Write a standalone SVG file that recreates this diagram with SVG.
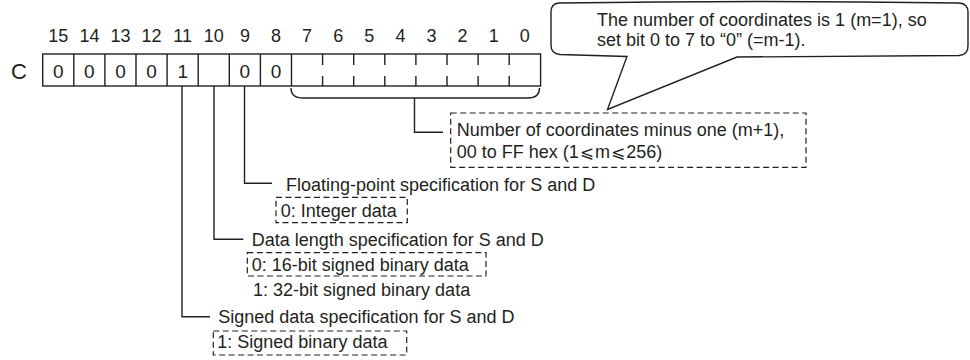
<svg xmlns="http://www.w3.org/2000/svg" width="970" height="360" viewBox="0 0 970 360">
<style>
text{font-family:"Liberation Sans",Arial,sans-serif;font-size:18px;fill:#231f20}
.n{text-anchor:middle}
.m{font-family:"DejaVu Sans","Noto Sans",sans-serif;font-size:17px}
.ln{fill:none;stroke:#231f20;stroke-width:1.4}
.ds{fill:none;stroke:#231f20;stroke-width:1.2;stroke-dasharray:6 3.5}
</style>
<rect width="970" height="360" fill="#fff"/>
<g id="bitnumbers">
<text class="n" x="58.3" y="42">15</text>
<text class="n" x="89.4" y="42">14</text>
<text class="n" x="120.5" y="42">13</text>
<text class="n" x="151.6" y="42">12</text>
<text class="n" x="182.7" y="42">11</text>
<text class="n" x="213.8" y="42">10</text>
<text class="n" x="244.9" y="42">9</text>
<text class="n" x="276" y="42">8</text>
<text class="n" x="307.1" y="42">7</text>
<text class="n" x="338.2" y="42">6</text>
<text class="n" x="369.3" y="42">5</text>
<text class="n" x="400.4" y="42">4</text>
<text class="n" x="431.5" y="42">3</text>
<text class="n" x="462.6" y="42">2</text>
<text class="n" x="493.7" y="42">1</text>
<text class="n" x="524.8" y="42">0</text>
</g>
<g id="register">
<text x="11" y="79" style="font-size:22px">C</text>
<rect class="ln" x="42.7" y="54" width="497.9" height="32"/>
<path class="ln" d="M73.8,54V86M104.9,54V86M136,54V86M167.1,54V86M198.2,54V86M229.3,54V86M260.4,54V86M291.5,54V86"/>
<path class="ln" d="M322.6,54V65M322.6,76V86M353.7,54V65M353.7,76V86M384.8,54V65M384.8,76V86M415.9,54V65M415.9,76V86M447,54V65M447,76V86M478.1,54V65M478.1,76V86M509.2,54V65M509.2,76V86"/>
<text class="n" x="58.3" y="77.5" style="font-size:19px">0</text>
<text class="n" x="89.4" y="77.5" style="font-size:19px">0</text>
<text class="n" x="120.5" y="77.5" style="font-size:19px">0</text>
<text class="n" x="151.6" y="77.5" style="font-size:19px">0</text>
<text class="n" x="182.7" y="77.5" style="font-size:19px">1</text>
<text class="n" x="244.9" y="77.5" style="font-size:19px">0</text>
<text class="n" x="276" y="77.5" style="font-size:19px">0</text>
</g>
<g id="connectors">
<path class="ln" d="M291,88 Q291,98 303,98 L528,98 Q539.5,98 539.5,88"/>
<path class="ln" d="M414.5,98V132.3H443"/>
<path class="ln" d="M244.5,86V183.3H272"/>
<path class="ln" d="M214,86V239.3H243.3"/>
<path class="ln" d="M182,86V316.7H210"/>
</g>
<g id="callout">
<path class="ln" d="M559,3 Q760,0 959,3 Q968,3.5 968,12 L968,46 Q968,55 959,55.5 L737,57 L607.5,109.5 L627,56.5 L560,54.5 Q551,54 551,45 L551,12 Q551,3.5 559,3 Z" fill="#fff"/>
<text x="597" y="26">The number of coordinates is 1 (m=1), so</text>
<text x="597" y="46">set bit 0 to 7 to “0” (=m-1).</text>
</g>
<g id="coordinates">
<rect class="ds" x="450.7" y="113" width="355.3" height="54.3"/>
<text x="456.7" y="136">Number of coordinates minus one (m+1),</text>
<text x="456.7" y="158">00 to FF hex (1<tspan class="m" dx="1">⩽</tspan><tspan dx="1">m</tspan><tspan class="m" dx="1">⩽</tspan><tspan dx="1">256)</tspan></text>
</g>
<g id="floating">
<text x="286" y="191">Floating-point specification for S and D</text>
<rect class="ds" x="276" y="197.3" width="131.3" height="25.4"/>
<text x="280.7" y="217">0: Integer data</text>
</g>
<g id="datalength">
<text x="251.7" y="245.5">Data length specification for S and D</text>
<rect class="ds" x="247.3" y="252.7" width="238.7" height="23.3"/>
<text x="251.7" y="270.5">0: 16-bit signed binary data</text>
<text x="253" y="296">1: 32-bit signed binary data</text>
</g>
<g id="signed">
<text x="218.3" y="322.5">Signed data specification for S and D</text>
<rect class="ds" x="213.3" y="331" width="193.4" height="24"/>
<text x="217.3" y="347.5">1: Signed binary data</text>
</g>
</svg>
